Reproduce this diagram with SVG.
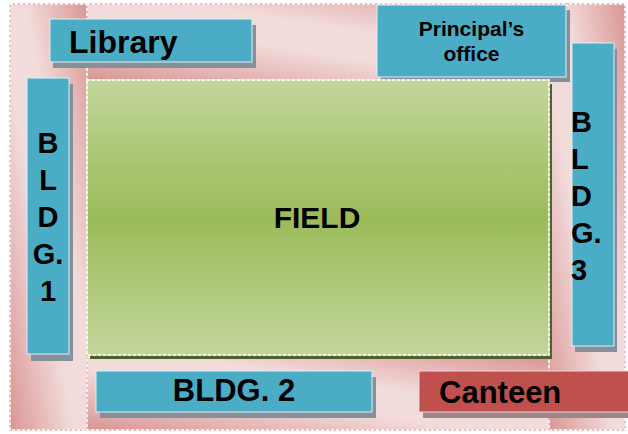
<svg xmlns="http://www.w3.org/2000/svg" width="628" height="434" viewBox="0 0 628 434">
<defs>
<linearGradient id="road" x1="1" y1="0" x2="0" y2="1">
<stop offset="0" stop-color="#d99694"/>
<stop offset="0.4" stop-color="#f2dcdb"/>
<stop offset="0.58" stop-color="#f2dcdb"/>
<stop offset="1" stop-color="#d99694"/>
</linearGradient>
<linearGradient id="grass" x1="0" y1="0" x2="0" y2="1">
<stop offset="0" stop-color="#c3d69b"/>
<stop offset="0.5" stop-color="#9bbb59"/>
<stop offset="1" stop-color="#c3d69b"/>
</linearGradient>
<style>
.road{fill:url(#road);stroke:#e6b0af;stroke-width:1.5}
.dash{fill:none;stroke:#ffffff;stroke-width:1.5;stroke-dasharray:3 2}
.bld{fill:#4bacc6;stroke:#dcf0f6;stroke-width:1}
.red{fill:#c0504d;stroke:#f2d4d3;stroke-width:1}
.shadow{fill:#86909a}
.rshadow{fill:#a08486}
.lbl{font-family:"Liberation Sans",Arial,sans-serif;font-weight:bold;fill:#000000}
</style>
</defs>
<rect width="628" height="434" fill="#ffffff"/>
<g id="roads">
<rect class="road" x="549" y="4" width="76" height="426"/>
<rect class="dash" x="549" y="4" width="76" height="426"/>
<rect class="road" x="10" y="4" width="77" height="426"/>
<rect class="dash" x="10" y="4" width="77" height="426"/>
<rect class="road" x="87" y="357" width="462" height="73"/>
<rect class="dash" x="87" y="357" width="462" height="73"/>
<rect class="road" x="87" y="4" width="480" height="76"/>
<rect class="dash" x="87" y="4" width="480" height="76"/>
</g>
<g id="principal">
<rect class="shadow" x="381" y="10" width="189" height="72"/>
<rect class="bld" x="377" y="5" width="189" height="72"/>
<text class="lbl" x="471.5" y="35.5" font-size="21" text-anchor="middle">Principal’s</text>
<text class="lbl" x="471.5" y="61" font-size="21" text-anchor="middle">office</text>
</g>
<g id="field">
<rect x="90" y="84" width="462" height="275" fill="#4f6228"/>
<rect x="87" y="80" width="462" height="275" fill="url(#grass)" stroke="#d7e4bd" stroke-width="1.5"/>
<rect x="87" y="80" width="462" height="275" class="dash"/>
<text class="lbl" x="317" y="228" font-size="30" text-anchor="middle">FIELD</text>
</g>
<g id="library">
<rect class="shadow" x="53" y="25" width="203" height="43"/>
<rect class="bld" x="50" y="19" width="202" height="43"/>
<text class="lbl" x="69" y="52.5" font-size="32">Library</text>
</g>
<g id="bldg1">
<rect class="shadow" x="31" y="84" width="42" height="277"/>
<rect class="bld" x="27" y="78" width="42" height="276"/>
<g class="lbl" font-size="29" text-anchor="middle">
<text x="48" y="153">B</text>
<text x="48" y="190">L</text>
<text x="48" y="227">D</text>
<text x="48" y="264">G.</text>
<text x="48" y="301">1</text>
</g>
</g>
<g id="bldg3">
<rect class="shadow" x="575" y="49" width="42" height="303"/>
<rect class="bld" x="572" y="43" width="42" height="303"/>
<g class="lbl" font-size="29">
<text x="571" y="132">B</text>
<text x="571" y="169">L</text>
<text x="571" y="206">D</text>
<text x="571" y="243">G.</text>
<text x="571" y="280">3</text>
</g>
</g>
<g id="bldg2">
<rect class="shadow" x="100" y="377" width="276" height="41"/>
<rect class="bld" x="96" y="371" width="276" height="41"/>
<text class="lbl" x="234" y="401" font-size="31" text-anchor="middle">BLDG. 2</text>
</g>
<g id="canteen">
<rect class="rshadow" x="423" y="377" width="210" height="41"/>
<rect class="red" x="419" y="371" width="212" height="41"/>
<text class="lbl" x="439" y="403" font-size="31">Canteen</text>
</g>
<g id="connectors"/>
</svg>
